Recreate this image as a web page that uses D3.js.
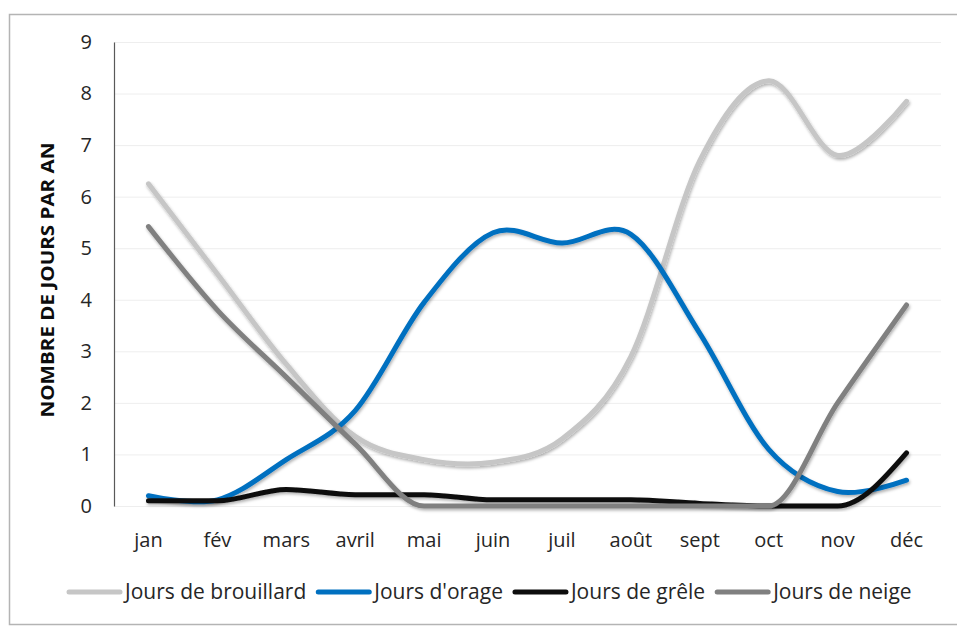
<!DOCTYPE html>
<html>
<head>
<meta charset="utf-8">
<script src="https://cdn.jsdelivr.net/npm/d3@7"></script>
<style>
  body { margin: 0; background: #fff; }
  svg { display: block; font-family: "Open Sans", sans-serif; }
</style>
</head>
<body>
<div id="chart-area"></div>
<script>
const categories = ["jan", "fév", "mars", "avril", "mai", "juin", "juil", "août", "sept", "oct", "nov", "déc"];
const brouillard = [6.25, 4.5, 2.75, 1.35, 0.9, 0.85, 1.3, 2.9, 6.7, 8.25, 6.8, 7.85];
const orage = [0.2, 0.12, 0.9, 1.85, 3.95, 5.3, 5.1, 5.27, 3.35, 1.1, 0.28, 0.5];
const grele = [0.1, 0.1, 0.32, 0.22, 0.22, 0.12, 0.12, 0.12, 0.05, 0.0, 0.0, 1.03];
const neige = [5.42, 3.8, 2.5, 1.2, 0, 0, 0, 0, 0, 0, 2.0, 3.9];
const yTicks = [0, 1, 2, 3, 4, 5, 6, 7, 8, 9];

const seriesNames = ["Jours de brouillard", "Jours d'orage", "Jours de grêle", "Jours de neige"];
const seriesValues = [brouillard, orage, grele, neige];
const seriesColors = ["#c6c6c6", "#0070c0", "#0d0d0d", "#808080"];

const W = 957, H = 626;
const margin = { top: 42, right: 16, bottom: 120, left: 114 };
const width = W - margin.left - margin.right;
const height = H - margin.top - margin.bottom;

const svg = d3.select("#chart-area")
  .append("svg")
    .attr("width", W)
    .attr("height", H);

const defs = svg.append("defs");
const f = defs.append("filter")
  .attr("id", "shadow")
  .attr("x", "-10%").attr("y", "-10%")
  .attr("width", "120%").attr("height", "120%");
f.append("feDropShadow")
  .attr("dx", 1).attr("dy", 2)
  .attr("stdDeviation", 1.6)
  .attr("flood-color", "#000")
  .attr("flood-opacity", 0.3);

// frame
svg.append("rect")
  .attr("x", 9.5).attr("y", 14.5)
  .attr("width", 960).attr("height", 610)
  .attr("fill", "none")
  .attr("stroke", "#b4b4b4")
  .attr("stroke-width", 1.5);

const g = svg.append("g")
  .attr("transform", `translate(${margin.left}, ${margin.top})`);

const x = d3.scaleBand()
  .domain(categories)
  .range([0, width]);

const y = d3.scaleLinear()
  .domain([0, 9])
  .range([height, 0]);

// gridlines
g.append("g")
  .attr("class", "grid")
  .call(d3.axisLeft(y).tickValues(yTicks).tickSize(-width).tickFormat(""))
  .call(s => s.select(".domain").remove())
  .call(s => s.selectAll("line").attr("stroke", "#eeeeee").attr("stroke-width", 1));

// y axis
const yAxisCall = d3.axisLeft(y).tickValues(yTicks).tickSize(0).tickPadding(22);
g.append("g")
  .attr("class", "y-axis")
  .call(yAxisCall)
  .call(s => s.select(".domain").attr("stroke", "#595959").attr("stroke-width", 1.2))
  .call(s => s.selectAll("text")
    .attr("font-size", "20px")
    .attr("fill", "#262626")
    .style("font-family", "'Open Sans', sans-serif"));

// x axis
const xAxisCall = d3.axisBottom(x).tickSize(0).tickPadding(27);
g.append("g")
  .attr("class", "x-axis")
  .attr("transform", `translate(0, ${height})`)
  .call(xAxisCall)
  .call(s => s.select(".domain").remove())
  .call(s => s.selectAll("text")
    .attr("font-size", "20px")
    .attr("fill", "#262626")
    .style("font-family", "'Open Sans', sans-serif"));

// axis title
g.append("text")
  .attr("class", "y label")
  .attr("x", -(280 - margin.top))
  .attr("y", 48 - margin.left + 6)
  .attr("font-size", "17px")
  .attr("font-weight", "bold")
  .attr("text-anchor", "middle")
  .attr("transform", "rotate(-90)")
  .attr("fill", "#0d0d0d")
  .attr("textLength", 275)
  .attr("lengthAdjust", "spacingAndGlyphs")
  .text("NOMBRE DE JOURS PAR AN");

// lines (neige and grêle sit on zero for months, keep them from dipping below)
const lineFor = (curve) => d3.line()
  .x((d, i) => x(categories[i]) + x.bandwidth() / 2)
  .y(d => y(d))
  .curve(curve);
const smooth = lineFor(d3.curveCardinal.tension(0));
const flat = lineFor(d3.curveMonotoneX);

g.selectAll(".series")
  .data(seriesValues)
  .enter()
  .append("path")
    .attr("class", "series")
    .attr("d", (d, i) => (i >= 2 ? flat(d) : smooth(d)))
    .attr("fill", "none")
    .attr("stroke", (d, i) => seriesColors[i])
    .attr("stroke-width", 5)
    .attr("stroke-linecap", "round")
    .attr("stroke-linejoin", "round")
    .attr("filter", "url(#shadow)");

// legend
const legend = svg.append("g")
  .attr("class", "legend")
  .attr("transform", "translate(67, 592)");

let lx = 0;
seriesNames.forEach((name, i) => {
  const item = legend.append("g").attr("transform", `translate(${lx}, 0)`);
  item.append("line")
    .attr("x1", 2).attr("x2", 53)
    .attr("y1", 0).attr("y2", 0)
    .attr("stroke", seriesColors[i])
    .attr("stroke-width", 5)
    .attr("stroke-linecap", "round");
  const t = item.append("text")
    .attr("x", 58)
    .attr("y", 7)
    .attr("font-size", "21px")
    .attr("fill", "#262626")
    .text(name);
  lx += 58 + t.node().getComputedTextLength() + 10;
});
</script>
</body>
</html>
